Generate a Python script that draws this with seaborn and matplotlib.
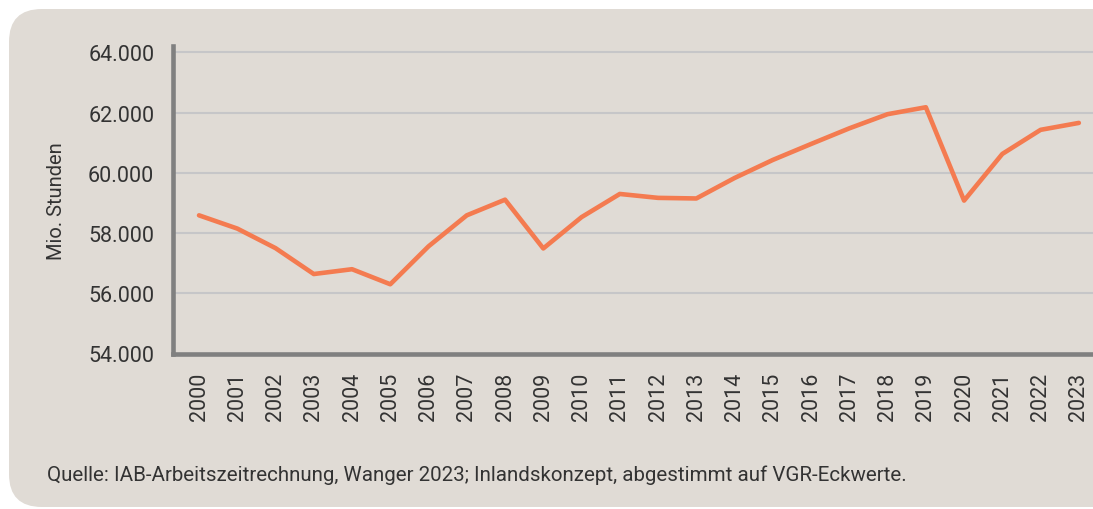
import matplotlib
matplotlib.use("Agg")
import matplotlib.pyplot as plt
from matplotlib.patches import FancyBboxPatch
import seaborn as sns
import pandas as pd

years = list(range(2000, 2024))
hours = [58590, 58150, 57500, 56640, 56800, 56300, 57560, 58590, 59110, 57490,
         58530, 59300, 59170, 59150, 59830, 60430, 60960, 61480, 61950, 62180,
         59080, 60630, 61430, 61660]
y_ticks = [54000, 56000, 58000, 60000, 62000, 64000]
y_tick_labels = ["54.000", "56.000", "58.000", "60.000", "62.000", "64.000"]
y_label = "Mio. Stunden"
source = "Quelle: IAB-Arbeitszeitrechnung, Wanger 2023; Inlandskonzept, abgestimmt auf VGR-Eckwerte."

df = pd.DataFrame({"Jahr": years, "Stunden": hours})

sns.set_theme(style="white")
plt.rcParams['font.family'] = ['Roboto', 'DejaVu Sans']

W, H = 1093, 510
fig = plt.figure(figsize=(W / 100, H / 100), dpi=100, facecolor="white")

panel_col = "#E0DBD5"
panel = FancyBboxPatch((9 / W, 2 / H), 1.2, (498 / H),
                       boxstyle="round,pad=0,rounding_size=0.03",
                       transform=fig.transFigure, facecolor=panel_col,
                       edgecolor="none", zorder=-10, mutation_aspect=W / H)
fig.patches.append(panel)

ax = fig.add_axes([173 / W, (H - 354.5) / H, 1 - 173 / W, (354.5 - 47) / H])
ax.set_facecolor("none")
ax.set_zorder(5)

sns.lineplot(data=df, x="Jahr", y="Stunden", ax=ax, color="#F47B50",
             linewidth=3.3, zorder=5)

ax.set_xlim(1999.32, 2023.37)
ax.set_ylim(54000, 64215)
ax.set_yticks(y_ticks)
ax.set_yticklabels(y_tick_labels)
ax.set_xticks(years)
ax.set_xticklabels([str(y) for y in years], rotation=90)

text_col = "#333333"
ax.tick_params(axis="y", length=0, pad=13.5, labelsize=15.5, labelcolor=text_col)
ax.tick_params(axis="x", length=0, pad=13, labelsize=15.5, labelcolor=text_col)

for yv in y_ticks[1:]:
    ax.axhline(yv, color="#C6C6C8", linewidth=1.5, zorder=1)

for side in ["top", "right"]:
    ax.spines[side].set_visible(False)
for side in ["left", "bottom"]:
    ax.spines[side].set_color("#808080")
    ax.spines[side].set_linewidth(3.3)
    ax.spines[side].set_zorder(6)

ax.set_xlabel("")
ax.set_ylabel("")
fig.text(56 / W, (H - 201) / H, y_label, rotation=90, ha="center", va="center",
         fontsize=14.5, color=text_col)

fig.text(47 / W, (H - 475) / H, source, ha="left", va="center",
         fontsize=14.8, color=text_col)

fig.savefig("out.png", dpi=100, facecolor="white")
